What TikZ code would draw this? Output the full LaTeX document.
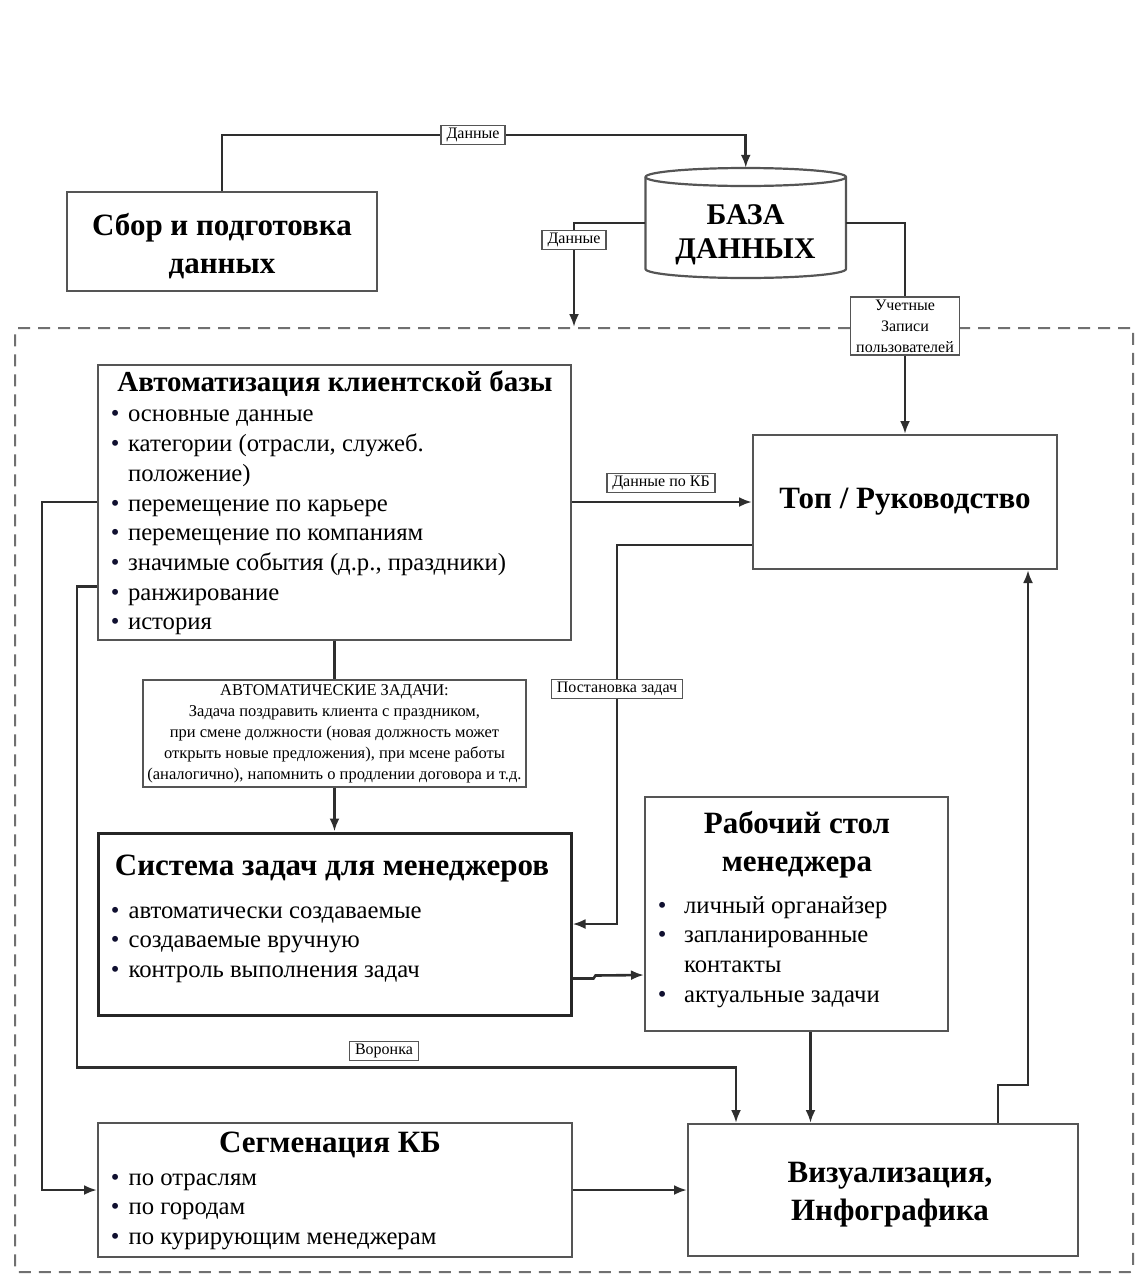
\documentclass[tikz,border=0pt]{standalone}
\usepackage{fontspec}
\setmainfont{Liberation Serif}
\usepackage{tikz}
\usetikzlibrary{positioning,arrows,arrows.meta,calc}

\definecolor{ln}{HTML}{2E2E2E}
\definecolor{bx}{HTML}{555555}
\definecolor{bul}{HTML}{101030}
\definecolor{dsh}{HTML}{707070}

\newcommand{\bl}{\textcolor{bul}{\textbullet}}
\newcommand{\ttlfont}{\fontsize{31}{38}\selectfont\bfseries}
\newcommand{\txtfont}{\fontsize{24.7}{29.7}\selectfont}
\newcommand{\lblfont}{\fontsize{16}{21}\selectfont}

\begin{document}
\begin{tikzpicture}[x=1pt, y=-1pt, >={Latex[length=13pt,width=10pt]},
  box/.style={draw=bx, line width=2pt, fill=white, inner sep=0pt},
  ttl/.style={font=\ttlfont, align=center, inner sep=0pt},
  lst/.style={font=\txtfont, anchor=north west, inner sep=0pt},
  lbl/.style={draw=bx, line width=1.5pt, fill=white, font=\lblfont, inner xsep=5.5pt, inner ysep=2.5pt, align=center},
  conn/.style={draw=ln, line width=2.6pt}]

  \useasboundingbox (0,0) rectangle (1138,1280);

  % dashed zone
  \node[draw=dsh, dash pattern=on 12pt off 8pt, line width=2pt, rounded corners=3pt,
        minimum width=1118pt, minimum height=944pt] (zone) at (574,800) {};

  % top part
  \node[box, minimum width=310pt, minimum height=99pt] (sbor) at (222,241.5) {};
  \node[ttl] (sborT) at (222,246) {Сбор и подготовка\\данных};

  \node[inner sep=0pt, minimum width=201pt, minimum height=110pt] (db) at (745.75,223) {};
  \path[draw=bx, line width=2.2pt, fill=white] (645.5,177) -- (645.5,269)
    arc[start angle=180, end angle=360, x radius=100.25pt, y radius=9pt] -- (846,177)
    arc[start angle=0, end angle=180, x radius=100.25pt, y radius=9pt] -- cycle;
  \draw[bx, line width=2.2pt] (645.5,177) arc[start angle=180, end angle=360, x radius=100.25pt, y radius=9pt];
  \node[ttl, font=\fontsize{30}{34}\selectfont\bfseries] (dbT) at (745.5,235) {БАЗА\\ДАННЫХ};

  % boxes
  \node[box, minimum width=473pt, minimum height=275pt] (auto) at (334.5,502) {};
  \node[ttl, font=\fontsize{29}{38}\selectfont\bfseries] (autoT) at (335,384) {Автоматизация клиентской базы};
  \node[lst] (autoL) at (110.7,401) {\begin{tabular}{@{}l@{\hspace{8.5pt}}l@{}}
    \bl & основные данные\\
    \bl & категории (отрасли, служеб.\\
        & положение)\\
    \bl & перемещение по карьере\\
    \bl & перемещение по компаниям\\
    \bl & значимые события (д.р., праздники)\\
    \bl & ранжирование\\
    \bl & история
  \end{tabular}};

  \node[box, ttl, minimum width=304pt, minimum height=134pt] (top) at (905,502) {Топ / Руководство};

  \node[lbl, font=\fontsize{16.5}{21}\selectfont, minimum width=383pt, minimum height=107pt, inner sep=0pt] (tasks) at (334.5,733.5)
    {АВТОМАТИЧЕСКИЕ ЗАДАЧИ:\\
     Задача поздравить клиента с праздником,\\
     при смене должности (новая должность может\\
     открыть новые предложения), при мсене работы\\
     (аналогично), напомнить о продлении договора и т.д.};

  \node[box, draw=black!85, line width=3pt, minimum width=473pt, minimum height=182pt] (sistema) at (334.5,924) {};
  \node[ttl] (sistemaT) at (332,869) {Система задач для менеджеров};
  \node[lst] (sistemaL) at (110.7,897) {\begin{tabular}{@{}l@{\hspace{9pt}}l@{}}
    \bl & автоматически создаваемые\\
    \bl & создаваемые вручную\\
    \bl & контроль выполнения задач
  \end{tabular}};

  \node[box, minimum width=303pt, minimum height=234pt] (rab) at (796.5,914) {};
  \node[ttl] (rabT) at (797,845) {Рабочий стол\\менеджера};
  \node[lst] (rabL) at (657.7,892) {\begin{tabular}{@{}l@{\hspace{17.5pt}}l@{}}
    \bl & личный органайзер\\
    \bl & запланированные\\
        & контакты\\
    \bl & актуальные задачи
  \end{tabular}};

  \node[box, minimum width=474pt, minimum height=134pt] (segm) at (335,1190) {};
  \node[ttl] (segmT) at (330,1145) {Сегменация КБ};
  \node[lst] (segmL) at (110.7,1164) {\begin{tabular}{@{}l@{\hspace{9pt}}l@{}}
    \bl & по отраслям\\
    \bl & по городам\\
    \bl & по курирующим менеджерам
  \end{tabular}};

  \node[box, minimum width=390pt, minimum height=132pt] (vis) at (883,1190) {};
  \node[ttl] (visT) at (890,1195) {Визуализация,\\Инфографика};

  % labels
  \node[lbl] (dl1) at (473,135) {Данные};
  \node[lbl] (dl2) at (574,240) {Данные};
  \node[lbl] (acc) at (905,326) {Учетные\\Записи\\пользователей};
  \node[lbl] (dkb) at (661,483) {Данные по КБ};
  \node[lbl] (post) at (617,689) {Постановка задач};
  \node[lbl] (vor) at (384,1051) {Воронка};

  % connectors
  \draw[conn, ->] (sbor.north) |- (dl1) -| (db.north);
  \draw[conn, ->] (db.west) -| (dl2) -- (zone.north);
  \draw[conn, ->] (db.east) -| (acc) -- (top.north);
  \draw[conn, ->] (auto.east) -- (top.west);
  \draw[conn, ->] ([yshift=25pt]top.south west) -| (post) |- (sistema.east);
  \draw[conn, ->] (auto.south) -- (tasks) -- (sistema.north);
  \draw[conn, ->] ([yshift=38pt]sistema.south east) -- ++(21,0) -- ++(2,-3) -- ([yshift=57pt]rab.south west);
  \draw[conn, ->] (auto.west) -- ++(-55,0) |- (segm.west);
  \draw[conn, ->] ([yshift=54pt]auto.south west) -- ++(-20,0) -- ++(0,481) -| ([xshift=49pt]vis.north west);
  \draw[conn, ->] ([xshift=14pt]rab.south) -- ([xshift=14pt]rab.south |- vis.north);
  \draw[conn, ->] ([xshift=-81pt]vis.north east) -- ++(0,-38) -| ([xshift=-30pt]top.south east);
  \draw[conn, ->] (segm.east) -- (vis.west);

\end{tikzpicture}
\end{document}
